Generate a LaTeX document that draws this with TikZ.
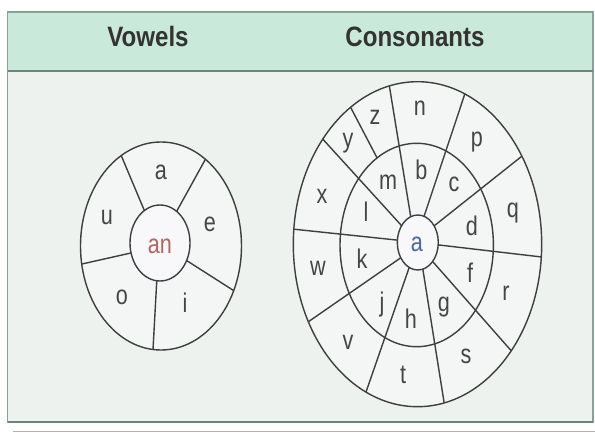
\documentclass[tikz,border=0pt]{standalone}
\usepackage{fontspec}
\setmainfont{Liberation Sans}
\newfontfamily\headfont{Liberation Sans Bold}[FakeStretch=0.86]
\newfontfamily\letterfont{Liberation Sans}[FakeStretch=0.8]
\definecolor{headfill}{HTML}{C9E9DB}
\definecolor{bodyfill}{HTML}{EEF2EF}
\definecolor{framecol}{HTML}{86A394}
\definecolor{headline}{HTML}{6B8579}
\definecolor{inkcol}{HTML}{3E3E3E}
\definecolor{lettercol}{HTML}{454545}
\definecolor{redcol}{HTML}{B0665E}
\definecolor{bluecol}{HTML}{4A66A6}
\definecolor{centerfill}{HTML}{F8F8FA}
\tikzset{
  wheelline/.style={draw=inkcol, line width=1.4pt},
  letter/.style={text=lettercol, font=\letterfont\fontsize{27}{27}\selectfont, inner sep=0pt},
  headtext/.style={text=black!80, font=\headfont\fontsize{28}{28}\selectfont, anchor=base, inner sep=0pt},
}
\begin{document}
\begin{tikzpicture}[x=1pt,y=-1pt]
\useasboundingbox (0,0) rectangle (595,433);
\fill[white] (0,0) rectangle (595,433);
% frame
\fill[bodyfill] (7.5,12) rectangle (593,422);
\fill[headfill] (7.5,12) rectangle (593,71);
\draw[framecol, line width=1.2pt] (7.5,12) rectangle (593,422);
\draw[framecol!80!black, line width=1.8pt] (7.5,422) -- (593,422);
\draw[headline, line width=1.5pt] (7.5,71) -- (593,71);
\draw[black!30, line width=0.8pt] (13,431) -- (595,431);
\node[headtext] (hv) at (148,47) {Vowels};
\node[headtext] (hc) at (415,47) {Consonants};
% ---------- left wheel ----------
\fill[bodyfill!70!white] (161,246) ellipse [x radius=80.5, y radius=104];
\foreach \ti/\to in {-121.4/-119.6, -56.3/-56.5, 27.5/25.4, 96.2/95.7, 164.8/170} {
  \draw[wheelline] ({160+30*cos(\ti)},{243+38*sin(\ti)}) -- ({161+80.5*cos(\to)},{246+104*sin(\to)});
}
\draw[wheelline] (161,246) ellipse [x radius=80.5, y radius=104];
\draw[wheelline, fill=centerfill] (160,243) ellipse [x radius=30, y radius=38];
\node[letter] (va) at (161,172) {a};
\node[letter] (ve) at (210,224) {e};
\node[letter] (vi) at (185,303) {i};
\node[letter] (vo) at (122,297) {o};
\node[letter] (vu) at (107,217) {u};
\node[letter, text=redcol] (van) at (160,246) {an};
% ---------- right wheel ----------
\fill[bodyfill!70!white] (417.5,244.2) ellipse [x radius=124.2, y radius=162.5];
\foreach \ti/\to in {-110.2/-103.1, -72.2/-67.6, -37.2/-32.8, 5/4.5, 43.7/41, 75.8/77.6, 114.8/114.5, 146.2/151.5, 185/185.3, -142.3/-139.7} {
  \draw[wheelline] ({417.8+20.5*cos(\ti)},{242.5+27.5*sin(\ti)}) -- ({417.5+124.2*cos(\to)},{244.2+162.5*sin(\to)});
}
\draw[wheelline] ({416.7+76.7*cos(-121.1)},{245+101.7*sin(-121.1)}) -- ({417.5+124.2*cos(-122.6)},{244.2+162.5*sin(-122.6)});
\draw[wheelline] (417.5,244.2) ellipse [x radius=124.2, y radius=162.5];
\draw[wheelline] (416.7,245) ellipse [x radius=76.7, y radius=101.7];
\draw[wheelline, fill=centerfill] (417.8,242.5) ellipse [x radius=20.5, y radius=27.5];
\node[letter] (cn) at (420,108) {n};
\node[letter] (cp) at (477,142) {p};
\node[letter] (cq) at (513,213) {q};
\node[letter] (cr) at (506,293) {r};
\node[letter] (cs) at (466,356) {s};
\node[letter] (ct) at (403,375) {t};
\node[letter] (cv) at (348,342) {v};
\node[letter] (cw) at (318,268) {w};
\node[letter] (cx) at (322,196) {x};
\node[letter] (cy) at (348,143) {y};
\node[letter] (cz) at (375,117) {z};
\node[letter] (cb) at (421.5,170) {b};
\node[letter] (cc) at (454,184) {c};
\node[letter] (cd) at (472,225.5) {d};
\node[letter] (cf) at (470,273) {f};
\node[letter] (cg) at (444,307) {g};
\node[letter] (ch) at (411,319) {h};
\node[letter] (cj) at (382,305) {j};
\node[letter] (ck) at (362,259) {k};
\node[letter] (cl) at (366,212) {l};
\node[letter] (cm) at (388,182) {m};
\node[letter, text=bluecol] (ca) at (417,244) {a};
\end{tikzpicture}
\end{document}
